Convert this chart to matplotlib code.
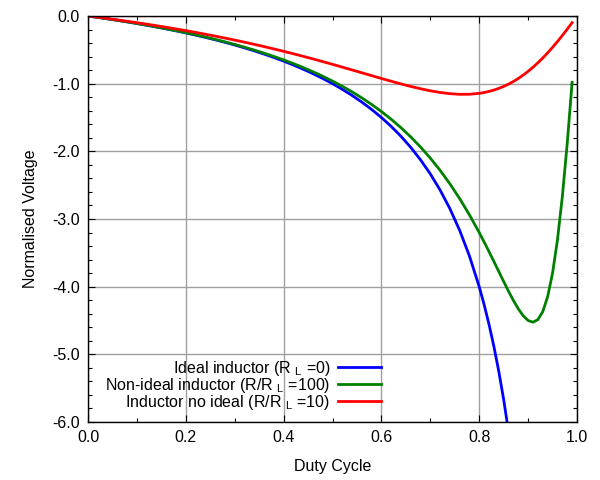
import matplotlib
matplotlib.use("Agg")
import matplotlib.pyplot as plt
from matplotlib.ticker import MultipleLocator, FormatStrFormatter

plt.rcParams['font.family'] = ['Liberation Sans', 'DejaVu Sans']
plt.rcParams['mathtext.fontset'] = 'custom'
plt.rcParams['mathtext.rm'] = 'Liberation Sans'
plt.rcParams['mathtext.it'] = 'Liberation Sans'

duty = [0.00, 0.02, 0.04, 0.06, 0.08, 0.10, 0.12, 0.14, 0.16, 0.18,
        0.20, 0.22, 0.24, 0.26, 0.28, 0.30, 0.32, 0.34, 0.36, 0.38,
        0.40, 0.42, 0.44, 0.46, 0.48, 0.50, 0.52, 0.54, 0.56, 0.58,
        0.60, 0.62, 0.64, 0.66, 0.68, 0.70, 0.72, 0.74, 0.76, 0.78,
        0.80, 0.81, 0.82, 0.83, 0.84, 0.85, 0.86, 0.87, 0.88, 0.89,
        0.90, 0.91, 0.92, 0.93, 0.94, 0.95, 0.96, 0.97, 0.98, 0.99]

ideal = [0.0, -0.0204, -0.0417, -0.0638, -0.0870, -0.1111, -0.1364, -0.1628, -0.1905, -0.2195,
         -0.25, -0.2821, -0.3158, -0.3514, -0.3889, -0.4286, -0.4706, -0.5152, -0.5625, -0.6129,
         -0.6667, -0.7241, -0.7857, -0.8519, -0.9231, -1.0, -1.0833, -1.1739, -1.2727, -1.3810,
         -1.5, -1.6316, -1.7778, -1.9412, -2.125, -2.3333, -2.5714, -2.8462, -3.1667, -3.5455,
         -4.0, -4.2632, -4.5556, -4.8824, -5.25, -5.6667, -6.1429, -6.6923, -7.3333, -8.0909,
         -9.0, -10.111, -11.5, -13.286, -15.667, -19.0, -24.0, -32.333, -49.0, -99.0]

nonideal_100 = [0.0, -0.0202, -0.0412, -0.0631, -0.0859, -0.1098, -0.1346, -0.1606, -0.1878, -0.2163,
                -0.2462, -0.2775, -0.3104, -0.3451, -0.3815, -0.4200, -0.4606, -0.5036, -0.5491, -0.5974,
                -0.6487, -0.7032, -0.7614, -0.8236, -0.8902, -0.9615, -1.0383, -1.1209, -1.2102, -1.3069,
                -1.4118, -1.5259, -1.6504, -1.7866, -1.9359, -2.1000, -2.2805, -2.4794, -2.6982, -2.9384,
                -3.2000, -3.3384, -3.4811, -3.6273, -3.7753, -3.9231, -4.0676, -4.2045, -4.3279, -4.4299,
                -4.5000, -4.5249, -4.4878, -4.3691, -4.1471, -3.8000, -3.3103, -2.6697, -1.8846, -0.9802]

nonideal_10 = [0.0, -0.0185, -0.0376, -0.0573, -0.0778, -0.0989, -0.1208, -0.1434, -0.1668, -0.1911,
               -0.2162, -0.2422, -0.2692, -0.2971, -0.3260, -0.3559, -0.3869, -0.4190, -0.4521, -0.4864,
               -0.5217, -0.5582, -0.5957, -0.6343, -0.6739, -0.7143, -0.7555, -0.7972, -0.8392, -0.8813,
               -0.9231, -0.9640, -1.0035, -1.0408, -1.0751, -1.1053, -1.1300, -1.1480, -1.1574, -1.1563,
               -1.1429, -1.1308, -1.1148, -1.0947, -1.0701, -1.0408, -1.0067, -0.9675, -0.9231, -0.8733,
               -0.8182, -0.7576, -0.6917, -0.6206, -0.5444, -0.4634, -0.3780, -0.2884, -0.1952, -0.0989]

labels = [r"Ideal inductor (R $_{\mathrm{L}}$ =0)",
          r"Non-ideal inductor (R/R $_{\mathrm{L}}$ =100)",
          r"Inductor no ideal (R/R $_{\mathrm{L}}$ =10)"]
colors = ['#0000ff', '#008000', '#ff0000']

fig = plt.figure(figsize=(6, 4.8), dpi=100)
ax = fig.add_axes([88/600, 1-422/480, (577-88)/600, (422-16)/480])

for ys, lab, c in zip([ideal, nonideal_100, nonideal_10], labels, colors):
    ax.plot(duty, ys, color=c, lw=2.0, label=lab)

ax.set_xlim(0, 1.0)
ax.set_ylim(-6.0, 0.0)
ax.xaxis.set_major_locator(MultipleLocator(0.2))
ax.xaxis.set_minor_locator(MultipleLocator(0.1))
ax.yaxis.set_major_locator(MultipleLocator(1.0))
ax.yaxis.set_minor_locator(MultipleLocator(0.2))
ax.xaxis.set_major_formatter(FormatStrFormatter('%.1f'))
ax.yaxis.set_major_formatter(FormatStrFormatter('%.1f'))
ax.tick_params(which='both', direction='in', top=True, right=True, labelsize=11.5, width=0.8, colors='black')
ax.tick_params(which='major', length=5, pad=6)
ax.tick_params(which='minor', length=3)
ax.grid(True, which='major', color='#a0a0a0', lw=1.0)
for s in ax.spines.values():
    s.set_linewidth(1.0)

ax.set_xlabel('Duty Cycle', fontsize=11.5, labelpad=10)
ax.set_ylabel('Normalised Voltage', fontsize=11.5, labelpad=10)

leg = ax.legend(loc='lower right', bbox_to_anchor=(0.60, 0.025), frameon=False,
                markerfirst=False, fontsize=11.5, handlelength=2.7, handletextpad=0.5,
                labelspacing=-0.12, borderaxespad=0, borderpad=0)
for t in leg.get_texts():
    t.set_ha('right')

fig.savefig('out.png', dpi=100)
